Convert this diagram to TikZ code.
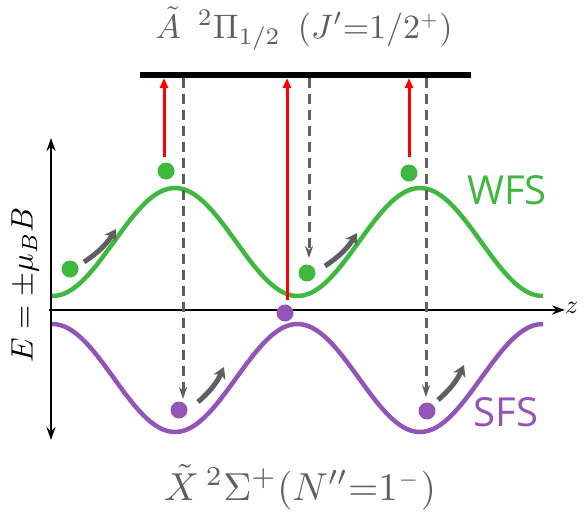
\documentclass[tikz,border=0pt]{standalone}
\usepackage{fontspec}
\newfontfamily\sansf{Open Sans}
\usetikzlibrary{arrows.meta}
\definecolor{wfs}{RGB}{62,184,62}
\definecolor{sfs}{RGB}{146,84,182}
\definecolor{dgray}{RGB}{95,95,95}
\definecolor{tgray}{RGB}{95,95,95}
\begin{document}
\begin{tikzpicture}[x=1pt,y=-1pt,
  axis/.style={line width=2.5pt},
  curve/.style={line width=4.5pt},
  redarr/.style={red, line width=3pt, -{Triangle[length=10pt,width=8pt]}},
  dasharr/.style={dgray, line width=3pt, dash pattern=on 10pt off 6pt, -{Stealth[length=12pt,width=8pt]}},
  movearr/.style={dgray, line width=5pt, -{Stealth[length=11pt,width=13pt,inset=3pt]}},
  gdot/.style={circle, fill=wfs, inner sep=0pt, minimum size=17pt},
  pdot/.style={circle, fill=sfs, inner sep=0pt, minimum size=17pt},
  lbl/.style={text=tgray, anchor=base, inner sep=0pt},
  slbl/.style={font=\sansf\fontsize{40}{44}\selectfont}
]
\useasboundingbox (0,0) rectangle (584,515);
% axes
\coordinate (ytop) at (51,138);
\coordinate (ybot) at (51,440);
\coordinate (xl) at (49,310);
\coordinate (xr) at (565,310);
\draw[axis, {Stealth[length=13pt,width=9pt]}-{Stealth[length=13pt,width=9pt]}] (ybot) -- (ytop);
\draw[axis, -{Stealth[length=13pt,width=9pt]}] (xl) -- (xr);
\node[anchor=west, inner sep=1pt] (z) at (564,308) {\scalebox{2.6}{$z$}};
\node[rotate=90] (E) at (25,285) {\scalebox{3.1}{$E=\pm\mu_B B$}};
% curves
\draw[curve, wfs] plot[domain=52:543, samples=120, smooth] (\x, {242-54*cos(1.469388*(\x-175))});
\draw[curve, sfs] plot[domain=52:543, samples=120, smooth] (\x, {378+54*cos(1.469388*(\x-175))});
% bar
\coordinate (barL) at (140,75);
\coordinate (barR) at (471,75);
\draw[line width=6pt] (barL) -- (barR);
% labels
\node[lbl] (top) at (304,38) {\scalebox{3.4}{$\tilde{A}\ \,{}^2\Pi_{1/2}\ \,(J'{=}1/2^{\scriptscriptstyle +})$}};
\node[lbl] (bot) at (300,500) {\scalebox{3.9}{$\tilde{X}\,{}^2\Sigma^{+}(N''{=}1^{\scriptscriptstyle -})$}};
\node[slbl, text=wfs] (W) at (507,190) {WFS};
\node[slbl, text=sfs] (S) at (506,412) {SFS};
% dots
\node[gdot] (g1) at (70,269) {};
\node[gdot] (g2) at (166,171) {};
\node[gdot] (g3) at (307,273) {};
\node[gdot] (g4) at (409,173) {};
\node[pdot] (p1) at (285,313) {};
\node[pdot] (p2) at (179,410) {};
\node[pdot] (p3) at (427,411) {};
% red excitation arrows
\coordinate (r1b) at (164,157); \coordinate (r1t) at (164,78);
\coordinate (r2b) at (287,300); \coordinate (r2t) at (287,78);
\coordinate (r3b) at (409,157); \coordinate (r3t) at (409,78);
\draw[redarr] (r1b) -- (r1t);
\draw[redarr] (r2b) -- (r2t);
\draw[redarr] (r3b) -- (r3t);
% dashed decay arrows
\coordinate (d1t) at (183,78); \coordinate (d1b) at (183,399);
\coordinate (d2t) at (309,78); \coordinate (d2b) at (309,258);
\coordinate (d3t) at (426,78); \coordinate (d3b) at (426,397);
\draw[dasharr] (d1t) -- (d1b);
\draw[dasharr] (d2t) -- (d2b);
\draw[dasharr] (d3t) -- (d3b);
% motion arrows
\coordinate (m1a) at (84,262); \coordinate (m1b) at (116,229);
\coordinate (m2a) at (325,266); \coordinate (m2b) at (357,233);
\coordinate (m3a) at (198,402); \coordinate (m3b) at (224,367);
\coordinate (m4a) at (438,400); \coordinate (m4b) at (464,365);
\draw[movearr] (m1a) to[bend right=12] (m1b);
\draw[movearr] (m2a) to[bend right=12] (m2b);
\draw[movearr] (m3a) to[bend right=12] (m3b);
\draw[movearr] (m4a) to[bend right=12] (m4b);
\end{tikzpicture}
\end{document}
